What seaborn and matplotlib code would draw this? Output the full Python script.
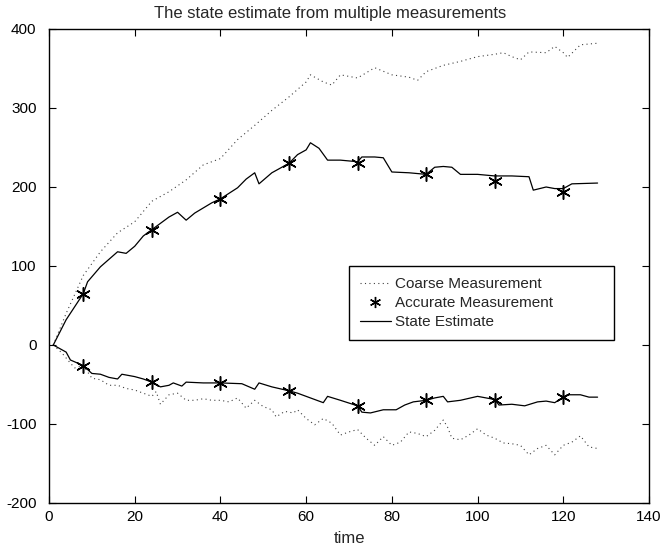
import matplotlib
matplotlib.use("Agg")
import matplotlib.pyplot as plt
import seaborn as sns
from matplotlib.lines import Line2D

# ---- data ----
up_coarse_t = [1, 4, 8, 12, 16, 20, 24, 28, 32, 36, 40, 44, 48, 52, 56, 60, 61, 64, 66, 68, 72, 76, 80, 84,
               86, 88, 92, 96, 100, 104, 106, 108, 110, 112, 116, 118, 120, 121, 124, 128]
up_coarse_y = [0, 40, 88, 118, 142, 156, 182, 194, 209, 228, 236, 260, 278, 297, 314, 333, 342, 333, 329, 342,
               338, 351, 342, 339, 335, 346, 354, 359, 365, 368, 370, 365, 361, 371, 370, 378, 370, 364, 380, 382]

lo_coarse_t = [1, 3, 5, 6, 8, 10, 12, 14, 16, 18, 20, 22, 24, 25, 26, 28, 30, 32, 34, 36, 38, 40, 42, 44, 46,
               48, 50, 52, 53, 55, 57, 58, 60, 62, 64, 66, 68, 70, 72, 74, 76, 78, 80, 82, 84, 86, 88, 90, 92,
               93, 94, 96, 98, 100, 102, 104, 106, 108, 110, 112, 114, 116, 118, 120, 122, 124, 126, 128]
lo_coarse_y = [0, -10, -23, -29, -26, -42, -44, -51, -51, -55, -57, -61, -65, -59, -75, -63, -61, -70, -70, -68,
               -70, -70, -72, -67, -80, -70, -78, -82, -91, -84, -86, -82, -93, -101, -93, -99, -114, -110, -107,
               -118, -127, -116, -127, -123, -110, -112, -116, -108, -95, -104, -118, -120, -114, -106, -114,
               -118, -124, -125, -127, -139, -131, -127, -139, -127, -123, -115, -129, -131]

acc_t = [8, 24, 40, 56, 72, 88, 104, 120]
up_acc_y = [65, 146, 185, 230, 230, 216, 208, 194]
lo_acc_y = [-26, -47, -48, -58, -77, -70, -69, -66]

up_est_t = [1, 4, 8, 9, 12, 16, 18, 20, 22, 24, 28, 30, 32, 34, 38, 40, 44, 46, 48, 49, 52, 56, 58, 60, 61, 63,
            65, 68, 72, 73, 76, 78, 80, 84, 88, 90, 92, 94, 96, 100, 104, 108, 112, 113, 116, 118, 120, 122, 128]
up_est_y = [0, 32, 65, 80, 99, 118, 116, 125, 138, 146, 162, 168, 158, 167, 180, 185, 199, 210, 218, 204, 218,
            230, 241, 247, 256, 249, 234, 234, 232, 238, 238, 237, 219, 218, 216, 225, 226, 225, 216, 216, 214,
            214, 213, 196, 200, 198, 198, 204, 205]

lo_est_t = [1, 4, 5, 8, 10, 12, 14, 16, 17, 20, 22, 24, 26, 28, 29, 31, 32, 36, 40, 45, 48, 49, 52, 56, 58, 61,
            64, 65, 68, 72, 73, 75, 78, 81, 83, 85, 88, 90, 92, 93, 96, 100, 104, 105, 108, 111, 114, 116, 118,
            120, 121, 124, 126, 128]
lo_est_y = [0, -9, -19, -26, -36, -37, -41, -43, -37, -40, -43, -47, -53, -51, -48, -52, -47, -48, -48, -49, -56,
            -48, -53, -58, -61, -67, -73, -65, -70, -77, -85, -86, -82, -82, -76, -72, -70, -67, -65, -72, -70,
            -65, -69, -76, -75, -77, -72, -71, -73, -66, -63, -63, -66, -66]

title = "The state estimate from multiple measurements"
xlabel = "time"
labels = ["Coarse Measurement", "Accurate Measurement", "State Estimate"]

# ---- style ----
sns.set_style("ticks")
plt.rcParams["font.family"] = ["Liberation Sans", "DejaVu Sans"]
plt.rcParams["font.size"] = 11
plt.rcParams["axes.unicode_minus"] = False

fig = plt.figure(figsize=(6.61, 5.46), dpi=100)
ax = fig.add_axes([49 / 661, 1 - 503 / 546, 600 / 661, 474 / 546])

star = (6, 2, 0)
dots = (1, 3)
dot_kw = dict(color="black", linewidth=0.8, dashes=dots, estimator=None, sort=False, alpha=0.75)
sol_kw = dict(color="black", linestyle="-", linewidth=0.9, estimator=None, sort=False)
acc_kw = dict(color="black", marker=star, s=95, linewidth=1.1)

sns.lineplot(x=up_coarse_t, y=up_coarse_y, ax=ax, **dot_kw)
sns.lineplot(x=lo_coarse_t, y=lo_coarse_y, ax=ax, **dot_kw)
sns.lineplot(x=up_est_t, y=up_est_y, ax=ax, **sol_kw)
sns.lineplot(x=lo_est_t, y=lo_est_y, ax=ax, **sol_kw)
sns.scatterplot(x=acc_t, y=up_acc_y, ax=ax, zorder=3, **acc_kw)
sns.scatterplot(x=acc_t, y=lo_acc_y, ax=ax, zorder=3, **acc_kw)

ax.set_xlim(0, 140)
ax.set_ylim(-200, 400)
ax.set_xticks(range(0, 141, 20))
ax.set_yticks(range(-200, 401, 100))
ax.tick_params(direction="in", top=True, right=True, length=5, width=0.8, labelsize=11,
               colors="black")
ax.tick_params(axis="x", pad=5)
ax.tick_params(axis="y", pad=9)
for s in ax.spines.values():
    s.set_visible(True)
    s.set_color("black")
    s.set_linewidth(1.0)
ax.set_title(title, fontsize=12, pad=8, x=(330.5 - 49) / 600)
ax.set_xlabel(xlabel, fontsize=12, labelpad=5)
ax.set_ylabel("")

handles = [
    Line2D([], [], color="black", linewidth=0.8, dashes=dots, alpha=0.75),
    Line2D([], [], color="black", linestyle="", marker=star, markersize=8, markeredgewidth=1.0),
    Line2D([], [], color="black", linestyle="-", linewidth=0.9),
]
leg = ax.legend(handles, labels, loc="upper left", bbox_to_anchor=(0.5, 0.342, 0.442, 0.158),
                mode="expand", frameon=True, fancybox=False, edgecolor="black", framealpha=1,
                fontsize=11, handlelength=2.0, borderpad=0.72, labelspacing=0.34,
                handletextpad=0.3, borderaxespad=0)
leg.get_frame().set_linewidth(1.0)

fig.savefig("out.png", dpi=100)
